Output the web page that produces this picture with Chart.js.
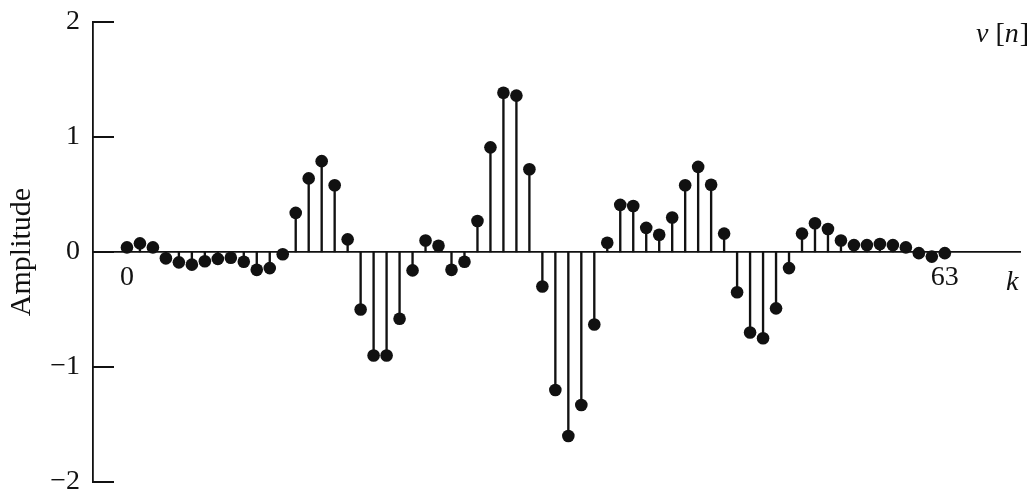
<!DOCTYPE html>
<html>
<head>
<meta charset="utf-8">
<script src="https://cdn.jsdelivr.net/npm/chart.js@4/dist/chart.umd.min.js"></script>
<style>
  html, body { margin: 0; padding: 0; background: #ffffff; }
  #wrap { width: 1027px; height: 491px; position: relative; }
</style>
</head>
<body>
<div id="wrap"><canvas id="c" width="1027" height="491"></canvas></div>
<script>
// ---- data ----
const sampleValues = [
  0.04, 0.075, 0.04, -0.055, -0.09, -0.11, -0.08, -0.06, -0.05, -0.085, -0.155, -0.14, -0.02,
  0.34, 0.64, 0.79, 0.58, 0.11, -0.50, -0.90, -0.90, -0.58, -0.16, 0.10, 0.055, -0.155, -0.085, 0.27, 0.91,
  1.385, 1.36, 0.72, -0.30, -1.20, -1.60, -1.33, -0.63, 0.08, 0.41, 0.40, 0.21, 0.15, 0.30, 0.58, 0.74,
  0.585, 0.16, -0.35, -0.70, -0.75, -0.49, -0.14, 0.16, 0.25, 0.20, 0.10, 0.06, 0.06, 0.07, 0.06, 0.04, -0.01, -0.04, -0.01
];
const xTickLabels = [0, 63];
const yTickValues = [-2, -1, 0, 1, 2];
const yAxisTitle = 'Amplitude';
const xAxisSymbol = 'k';
const seriesName = ['v', ' [', 'n', ']'];

const INK = '#111111';
const SERIF = '"Liberation Serif", "DejaVu Serif", "Times New Roman", serif';

const points = sampleValues.map((v, i) => ({ x: i, y: v }));

// move the (zero-height in layout) bottom x axis up to the y = 0 line
const xAtZeroPlugin = {
  id: 'xAtZero',
  afterLayout(chart) {
    const xs = chart.scales.x;
    const y0 = chart.scales.y.getPixelForValue(0);
    xs.top = y0;
    xs.bottom = y0 + 50;
    xs.height = 50;
    xs._labelItems = null;
    xs._gridLineItems = null;
  }
};

const decorPlugin = {
  id: 'decor',
  afterDraw(chart) {
    const { ctx, chartArea, scales } = chart;
    const y = scales.y;
    ctx.save();
    // inward tick marks on the y axis
    ctx.strokeStyle = INK;
    ctx.lineWidth = 1.8;
    ctx.beginPath();
    yTickValues.forEach(v => {
      const py = Math.round(y.getPixelForValue(v));
      ctx.moveTo(chartArea.left, py);
      ctx.lineTo(chartArea.left + 21, py);
    });
    ctx.stroke();

    ctx.fillStyle = INK;
    ctx.textBaseline = 'alphabetic';
    ctx.textAlign = 'left';
    // axis symbol k
    ctx.font = 'italic 28px ' + SERIF;
    ctx.fillText(xAxisSymbol, 1006, 290);
    // series label v [n]
    let x = 976;
    seriesName.forEach((s, i) => {
      ctx.font = (i % 2 === 0 ? 'italic ' : '') + '28px ' + SERIF;
      ctx.fillText(s, x, 42);
      x += ctx.measureText(s).width + (i === 2 ? 1 : 0);
    });
    ctx.restore();
  }
};

new Chart(document.getElementById('c'), {
  type: 'scatter',
  data: {
    datasets: [
      {
        type: 'scatter',
        data: points,
        pointRadius: 6.3,
        pointHoverRadius: 6.3,
        pointBackgroundColor: INK,
        pointBorderWidth: 0,
        borderColor: INK,
        order: 0
      },
      {
        type: 'bar',
        data: points,
        backgroundColor: INK,
        borderWidth: 0,
        barThickness: 1.7,
        order: 1
      }
    ]
  },
  options: {
    responsive: false,
    animation: false,
    events: [],
    layout: { padding: { left: 0, top: 22, right: 5, bottom: 9 } },
    plugins: { legend: { display: false }, tooltip: { enabled: false } },
    scales: {
      x: {
        type: 'linear',
        min: -34 / 13,
        max: 63 + 76 / 13,
        offset: false,
        position: 'bottom',
        grid: { display: false, drawTicks: false, offset: false },
        border: { display: true, color: INK, width: 1.7 },
        afterBuildTicks(scale) { scale.ticks = xTickLabels.map(v => ({ value: v })); },
        afterFit(scale) { scale.height = 0; scale.paddingLeft = 0; scale.paddingRight = 0; },
        ticks: {
          color: INK,
          padding: 9,
          maxRotation: 0,
          autoSkip: false,
          font: { family: SERIF, size: 28 },
          callback: v => String(v)
        }
      },
      y: {
        type: 'linear',
        min: -2,
        max: 2,
        position: 'left',
        grid: { display: false, drawTicks: false },
        border: { display: true, color: INK, width: 1.8 },
        afterBuildTicks(scale) { scale.ticks = yTickValues.map(v => ({ value: v })); },
        afterFit(scale) { scale.width = 93; scale.paddingTop = 0; scale.paddingBottom = 0; },
        ticks: {
          color: INK,
          padding: 13,
          font: { family: SERIF, size: 28 },
          callback: v => (v < 0 ? '\u2212' + Math.abs(v) : String(v))
        },
        title: {
          display: true,
          text: yAxisTitle,
          color: INK,
          font: { family: SERIF, size: 30 },
          padding: { top: 4, bottom: 0 }
        }
      }
    }
  },
  plugins: [xAtZeroPlugin, decorPlugin]
});
</script>
</body>
</html>
